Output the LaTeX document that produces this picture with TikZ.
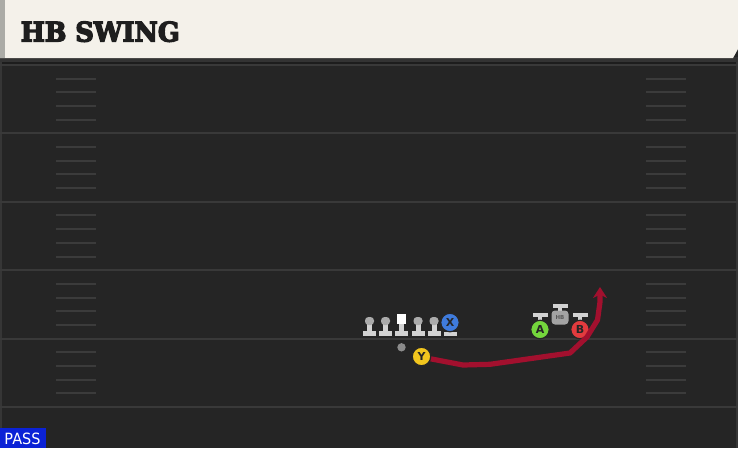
\documentclass[tikz,border=0pt]{standalone}
\usepackage{fontspec}
\setmainfont{DejaVu Serif}
\setsansfont{DejaVu Sans}
\newfontfamily\titlefont[FakeBold=5]{DejaVu Serif Bold}
\usetikzlibrary{arrows.meta}
\definecolor{fieldbg}{HTML}{252525}
\definecolor{yardline}{HTML}{393939}
\definecolor{hashc}{HTML}{3B3B3B}
\definecolor{headerbg}{HTML}{F4F1EA}
\definecolor{headerstrip}{HTML}{ABABA6}
\definecolor{titlec}{HTML}{1E1E1E}
\definecolor{routec}{HTML}{A2102E}
\definecolor{passblue}{HTML}{0B22D6}
\definecolor{iconlight}{HTML}{D2D2D2}
\definecolor{iconhead}{HTML}{ABABAB}
\definecolor{yellowc}{HTML}{F2C61E}
\definecolor{greenc}{HTML}{74D63C}
\definecolor{redc}{HTML}{E23B3E}
\definecolor{bluec}{HTML}{3F7BDC}
\definecolor{hbgray}{HTML}{A3A3A3}
\definecolor{ballc}{HTML}{8C8C8C}
\tikzset{
  player/.style={circle, draw=black!85, line width=1.2pt, minimum size=18.5pt, inner sep=0pt,
    font=\sffamily\bfseries\fontsize{11}{11}\selectfont, text=black!85},
  route/.style={draw=routec, line width=5.2pt, line join=round},
  yard/.style={draw=yardline, line width=2pt},
  hashm/.style={draw=hashc, line width=2pt},
  lineman/.pic={
    \fill[iconlight] (-6.5,-5) rectangle (6.5,0);
    \fill[iconlight] (-2.5,-12) rectangle (2.5,-5);
    \fill[iconhead, rounded corners=3.5] (-4.5,-10.5) rectangle (4.5,-18.5);
  },
  centerman/.pic={
    \fill[iconlight] (-6.5,-5) rectangle (6.5,0);
    \fill[iconlight] (-2.5,-12) rectangle (2.5,-5);
    \fill[white] (-4.5,-11.5) rectangle (4.5,-21.5);
  }
}
\begin{document}
\begin{tikzpicture}[x=1pt,y=-1pt]
\useasboundingbox (0,0) rectangle (738,448);
% field
\fill[fieldbg] (0,0) rectangle (738,448);
\fill[black!80] (0,57) rectangle (738,62);
\fill[black!22!fieldbg] (0,62) rectangle (738,64);
\draw[draw=white!8!fieldbg, line width=1.5pt] (1,62) -- (1,448);
\draw[draw=white!8!fieldbg, line width=2pt] (737,62) -- (737,448);
% yard lines
\foreach \y in {65,133.4,201.8,270.2,338.6,407} {
  \draw[yard] (0,\y) -- (738,\y);
}
% hash marks
\foreach \b in {133.4,201.8,270.2,338.6} {
  \foreach \k in {-1,-2,-3,-4} {
    \draw[hashm] (56,\b+13.7*\k) -- (96,\b+13.7*\k);
    \draw[hashm] (646,\b+13.7*\k) -- (686,\b+13.7*\k);
  }
}
\foreach \k in {1,2,3,4} {
  \draw[hashm] (56,338.6+13.7*\k) -- (96,338.6+13.7*\k);
  \draw[hashm] (646,338.6+13.7*\k) -- (686,338.6+13.7*\k);
}
% header
\fill[headerbg] (0,0) -- (738,0) -- (738,49) -- (733,58) -- (0,58) -- cycle;
\fill[headerstrip] (0,0) rectangle (5,58);
\node[anchor=west, inner sep=0pt, text=titlec] (title) at (20.5,31.7)
  {\resizebox{159pt}{20pt}{\titlefont HB SWING}};
% PASS label
\fill[passblue] (0,428) rectangle (46,448);
\node[inner sep=0pt, text=white] (pass) at (22.5,439.2)
  {\resizebox{36pt}{11.5pt}{\sffamily PASS}};
% offensive line
\foreach \x in {369.5,385.5,418,434} {
  \pic at (\x,335.5) {lineman};
}
\pic at (401.5,335.5) {centerman};
% X receiver base
\fill[iconlight] (443.5,331.5) rectangle (456.5,336);
\fill[iconlight] (447.5,329) rectangle (452.5,332);
\node[player, fill=bluec] (X) at (450,322.5) {X};
% ball
\fill[ballc] (401.5,347.3) circle (4.2pt);
% bars above A, HB, B
\fill[iconlight] (532.5,312.5) rectangle (547.5,316.5);
\fill[iconlight] (538,316.5) rectangle (542,322);
\fill[iconlight] (572.5,312.5) rectangle (587.5,316.5);
\fill[iconlight] (578,316.5) rectangle (582,322);
\fill[iconlight] (552.5,304) rectangle (567.5,308);
\fill[iconlight] (558,308) rectangle (562,311);
\node[fill=hbgray, rounded corners=3.5pt, minimum width=17pt, minimum height=14pt, inner sep=0pt,
  font=\sffamily\bfseries\fontsize{5.5}{5.5}\selectfont, text=black!65] (HB) at (560,317.5) {HB};
\node[player, fill=greenc] (A) at (540,329.5) {A};
\node[player, fill=redc] (B) at (580,329.5) {B};
% route
\coordinate (r1) at (463,365);
\coordinate (r2) at (490,364.3);
\coordinate (r3) at (570,353);
\coordinate (r4) at (587,337);
\coordinate (r5) at (597.5,320);
\coordinate (r6) at (600,302);
\coordinate (rtip) at (600,287);
\draw[route, -{Stealth[length=11pt,width=14pt,inset=3.5pt]}] (429,358.5) -- (r1) -- (r2) -- (r3) -- (r4) -- (r5) -- (r6) -- (rtip);
\node[player, fill=yellowc] (Y) at (421.5,356.5) {Y};
\end{tikzpicture}
\end{document}
